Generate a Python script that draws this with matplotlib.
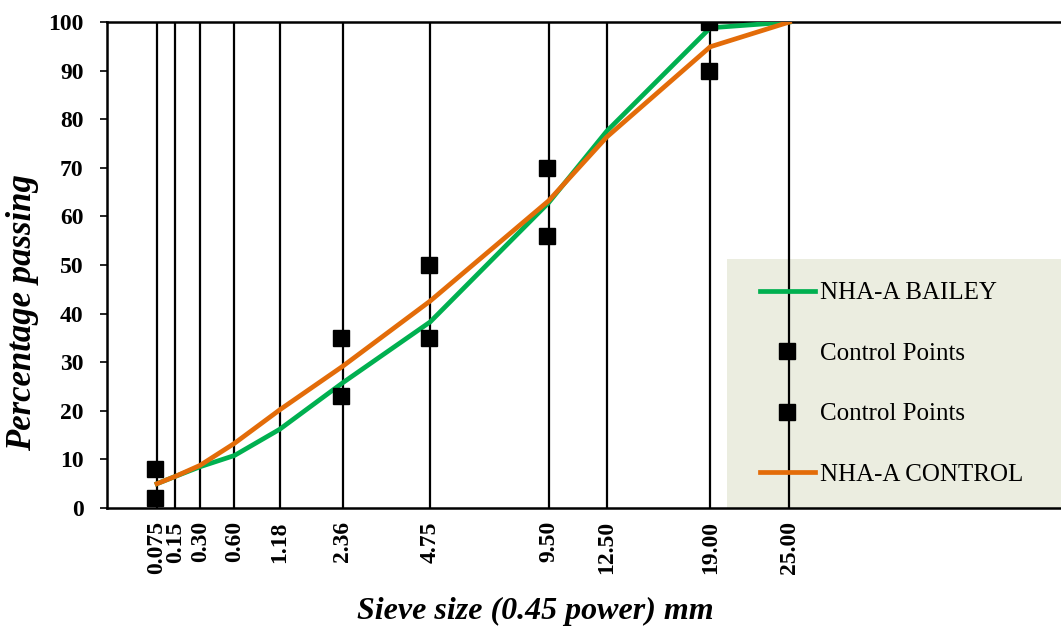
import numpy as np
import matplotlib.pyplot as plt
from matplotlib.patches import Rectangle

plt.rcParams['font.family'] = ['Liberation Serif', 'DejaVu Serif']

sieve = [0.075, 0.15, 0.30, 0.60, 1.18, 2.36, 4.75, 9.50, 12.50, 19.00, 25.00]
sieve_labels = ['0.075', '0.15', '0.30', '0.60', '1.18', '2.36', '4.75', '9.50', '12.50', '19.00', '25.00']

bailey = [5, 6.5, 8.5, 10.8, 16.2, 25.8, 38.3, 62.8, 77.5, 98.8, 100]
control = [5, 6.5, 8.8, 13.3, 20.2, 29.2, 42.6, 63.2, 76.3, 94.9, 100]

cp_sieve = [0.075, 2.36, 4.75, 9.50, 19.00]
cp_low = [2, 23, 35, 56, 90]
cp_high = [8, 35, 50, 70, 100]

p = 0.45
x = np.array(sieve) ** p
xc = np.array(cp_sieve) ** p

fig = plt.figure(figsize=(10.61, 6.31), dpi=100)
ax = fig.add_axes([107 / 1061, 1 - 508 / 631, 962 / 1061, 486 / 631])

# legend background box
ax.add_patch(Rectangle((0.644, 0.0), 0.4, 0.512, transform=ax.transAxes,
                       facecolor='#EBEDE0', edgecolor='none', zorder=0))

ax.vlines(x, 0, 100, colors='black', linewidth=1.6, zorder=1)

ax.plot(x, bailey, color='#00B050', lw=3.4, label='NHA-A BAILEY', zorder=3)
ax.plot(xc - 0.01, cp_high, 's', color='black', ms=11, label='Control Points', zorder=4)
ax.plot(xc - 0.01, cp_low, 's', color='black', ms=11, label='Control Points', zorder=4)
ax.plot(x, control, color='#E36C09', lw=3.4, label='NHA-A CONTROL', zorder=3)

ax.set_xlim(0, 6)
ax.set_ylim(0, 100)
ax.set_yticks(np.arange(0, 101, 10))
ax.set_xticks(x)
ax.set_xticklabels(sieve_labels, rotation=90, fontsize=17, fontweight='bold')
for lbl in ax.get_yticklabels():
    lbl.set_fontsize(17)
    lbl.set_fontweight('bold')
ax.tick_params(axis='x', length=0, pad=9.5)
ax.tick_params(axis='y', length=5, width=1.2, pad=12)

for s in ['left', 'bottom', 'top']:
    ax.spines[s].set_linewidth(1.8)
ax.spines['right'].set_visible(False)

ax.set_ylabel('Percentage passing', fontsize=25, fontweight='bold', style='italic')
ax.yaxis.set_label_coords(-0.071, 0.403)
ax.set_xlabel('Sieve size (0.45 power) mm', fontsize=23, fontweight='bold', style='italic')
ax.xaxis.set_label_coords(0.445, -0.183)

ax.legend(loc='upper left', bbox_to_anchor=(0.668, 0.486), frameon=False, fontsize=18,
          labelspacing=1.52, handlelength=2.2, handletextpad=0.2, borderaxespad=0)

fig.savefig('out.png', dpi=100)
